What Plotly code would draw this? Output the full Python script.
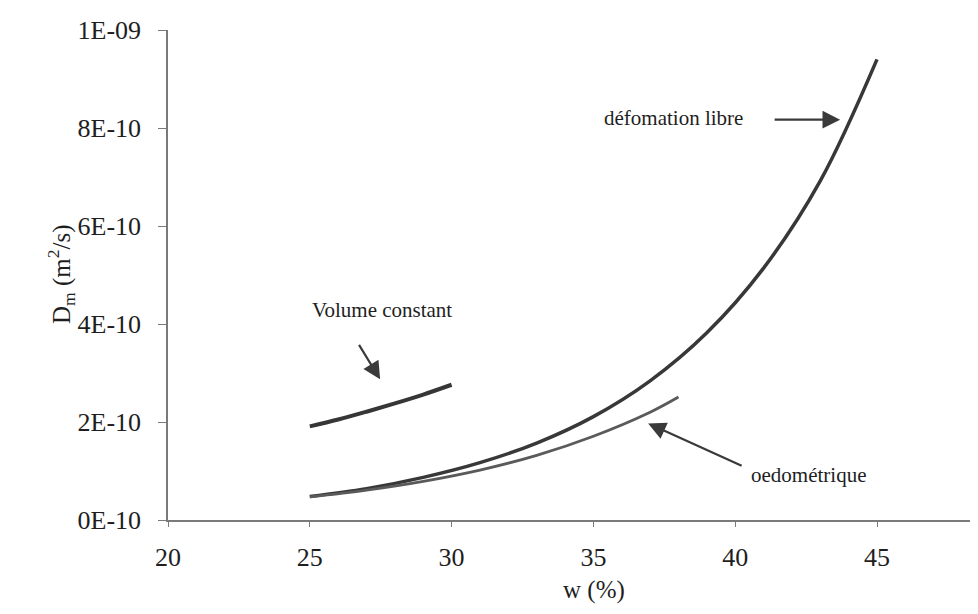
import plotly.graph_objects as go

# ---- data ----
w_libre = [25, 27, 29, 31, 33, 35, 37, 39, 41, 43, 45]
D_libre = [0.48e-10, 0.64e-10, 0.87e-10, 1.17e-10, 1.57e-10, 2.11e-10, 2.84e-10, 3.82e-10, 5.14e-10, 6.92e-10, 9.40e-10]

w_oedo = [25, 27, 29, 31, 33, 35, 37, 38]
D_oedo = [0.47e-10, 0.61e-10, 0.79e-10, 1.02e-10, 1.32e-10, 1.71e-10, 2.20e-10, 2.51e-10]

w_vol = [25, 26, 27, 28, 29, 30]
D_vol = [1.91e-10, 2.05e-10, 2.21e-10, 2.38e-10, 2.56e-10, 2.76e-10]

x_ticks = [20, 25, 30, 35, 40, 45]
y_ticks = [0, 2e-10, 4e-10, 6e-10, 8e-10, 1e-9]
y_ticktext = ["0E-10", "2E-10", "4E-10", "6E-10", "8E-10", "1E-09"]

FONT = "Liberation Serif, Times New Roman, serif"
TXT = "#1e1e1e"

fig = go.Figure()
fig.add_trace(go.Scatter(x=w_vol, y=D_vol, mode="lines", line=dict(color="#363636", width=4, shape="spline"),
                         name="Volume constant", showlegend=False))
fig.add_trace(go.Scatter(x=w_libre, y=D_libre, mode="lines", line=dict(color="#383838", width=3.5, shape="spline"),
                         name="défomation libre", showlegend=False))
fig.add_trace(go.Scatter(x=w_oedo, y=D_oedo, mode="lines", line=dict(color="#5a5a5a", width=2.8, shape="spline"),
                         name="oedométrique", showlegend=False))

ann = []
# labels
ann.append(dict(x=27.55, y=4.29e-10, text="Volume constant", showarrow=False, font=dict(size=21, family=FONT, color=TXT)))
ann.append(dict(x=37.84, y=8.21e-10, text="défomation libre", showarrow=False, font=dict(size=21, family=FONT, color=TXT)))
ann.append(dict(x=42.57, y=0.915e-10, text="oedométrique", showarrow=False, font=dict(size=21, family=FONT, color=TXT)))
# arrows
arrow = dict(showarrow=True, arrowhead=2, arrowsize=1.6, arrowwidth=2.2, arrowcolor="#3a3a3a", text="", axref="pixel", ayref="pixel")
ann.append(dict(x=27.48, y=2.87e-10, ax=-22, ay=-36, **arrow))
ann.append(dict(x=43.7, y=8.17e-10, ax=-67, ay=0, **arrow))
ann.append(dict(x=36.93, y=1.97e-10, ax=95, ay=43, **arrow))
# axis titles
ann.append(dict(x=586, y=598, xref="paper", yref="paper", text="w (%)", showarrow=False,
                font=dict(size=25, family=FONT, color=TXT)))
ann.append(dict(x=33, y=267, xref="paper", yref="paper", text="D<sub>m</sub> (m<sup>2</sup>/s)", showarrow=False,
                textangle=-90, font=dict(size=25, family=FONT, color=TXT)))

W, H = 978, 614
L, R, T, B = 160, 0, 22, 102
pw, ph = W - L - R, H - T - B
# convert pixel positions for the title annotations to paper coords
for a in ann:
    if a.get("xref") == "paper":
        a["x"] = (a["x"] - L) / pw
        a["y"] = (H - B - a["y"]) / ph

fig.update_layout(
    width=W, height=H,
    margin=dict(l=L, r=R, t=T, b=B, pad=0),
    paper_bgcolor="white", plot_bgcolor="white",
    font=dict(family=FONT, color=TXT),
    annotations=ann,
    xaxis=dict(range=[20, 20 + 818 / 28.36], tickvals=x_ticks, showgrid=False, zeroline=False,
               showline=True, linecolor="#7a7a7a", linewidth=1.5, ticks="outside", ticklen=5,
               tickcolor="#7a7a7a", tickwidth=1.2, tickfont=dict(size=26, family=FONT, color=TXT),
               ticklabelstandoff=8),
    yaxis=dict(range=[0, 1e-9], tickvals=y_ticks, ticktext=y_ticktext, showgrid=False, zeroline=False,
               showline=True, linecolor="#7a7a7a", linewidth=1.5, ticks="outside", ticklen=8,
               tickcolor="#7a7a7a", tickwidth=1.2, tickfont=dict(size=26, family=FONT, color=TXT),
               ticklabelstandoff=12),
)

fig.write_html("out.html")
